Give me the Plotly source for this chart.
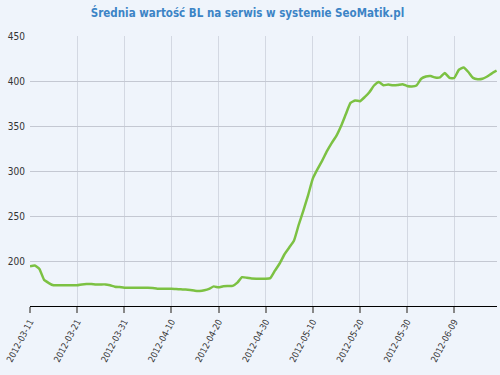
import plotly.graph_objects as go
import pandas as pd

start_date = "2012-03-11"
values = [194, 195, 191, 179, 175.5, 173, 173, 173, 173, 173,
          173, 174, 174.5, 174.5, 174, 174, 174, 173, 171.5, 171,
          170.3, 170.3, 170.3, 170.3, 170.3, 170.3, 170, 169.2, 169.2, 169.2,
          169.2, 168.8, 168.5, 168.3, 167.8, 167, 166.8, 167.5, 169, 171.8,
          170.7, 172, 172.2, 172.4, 176, 182, 181.4, 180.5, 180.3, 180.3,
          180.3, 181, 189.5, 197.5, 207.5, 215, 222.5, 240, 256, 273,
          291.5, 302, 311.5, 322, 331, 339, 350, 363, 375.6, 378.4,
          377.5, 382, 387.5, 395, 399, 395.3, 396, 395.2, 395.5, 396.5,
          394.5, 394, 395, 402.5, 405, 405.5, 403.8, 404, 408.8, 403.5,
          403.3, 412.5, 415, 410, 403.5, 402, 402.5, 405, 408.5, 411.5]
dates = [d.strftime("%Y-%m-%d") for d in pd.date_range(start_date, periods=len(values), freq="D")]
tick_dates = [d.strftime("%Y-%m-%d") for d in pd.date_range(start_date, periods=10, freq="10D")]
tick_labels = list(tick_dates)
y_ticks = [200, 250, 300, 350, 400, 450]
title = "Średnia wartość BL na serwis w systemie SeoMatik.pl"

narrow = "DejaVu Sans Condensed, sans-serif"
bg = "#eff4fb"

fig = go.Figure()
fig.add_trace(go.Scatter(
    x=dates, y=values, mode="lines",
    line=dict(color="#7cc143", width=2.5, shape="spline", smoothing=0.4),
    hoverinfo="skip", showlegend=False,
))

fig.update_layout(
    width=500, height=375,
    margin=dict(l=30, r=3, t=36, b=69),
    paper_bgcolor=bg,
    plot_bgcolor=bg,
    title=dict(text="<b>" + title + "</b>", x=0.495, xanchor="center", y=0.966, yanchor="middle",
               font=dict(family=narrow, size=11.5, color="#3c84c6")),
    xaxis=dict(
        range=[dates[0], dates[-1] + " 02:00"],
        tickvals=tick_dates, ticktext=tick_labels, tickangle=-62,
        showgrid=True, gridcolor="#d3d8e2", gridwidth=1,
        showline=True, linecolor="#000000", linewidth=1.2,
        ticks="outside", ticklen=6, tickcolor="#888888", tickwidth=1.5,
        tickfont=dict(family=narrow, size=9, color="#333333"),
        zeroline=False, automargin=False,
    ),
    yaxis=dict(
        range=[150, 450],
        tickvals=y_ticks,
        showgrid=True, gridcolor="#c4c8d2", gridwidth=1,
        showline=False, ticks="", ticklabelstandoff=4,
        tickfont=dict(family=narrow, size=10, color="#333333"),
        zeroline=False, automargin=False,
    ),
)

fig.write_html(
    "out.html",
    config={"displayModeBar": False},
    post_script="document.body.style.margin='0';document.body.style.background='" + bg + "';",
)
